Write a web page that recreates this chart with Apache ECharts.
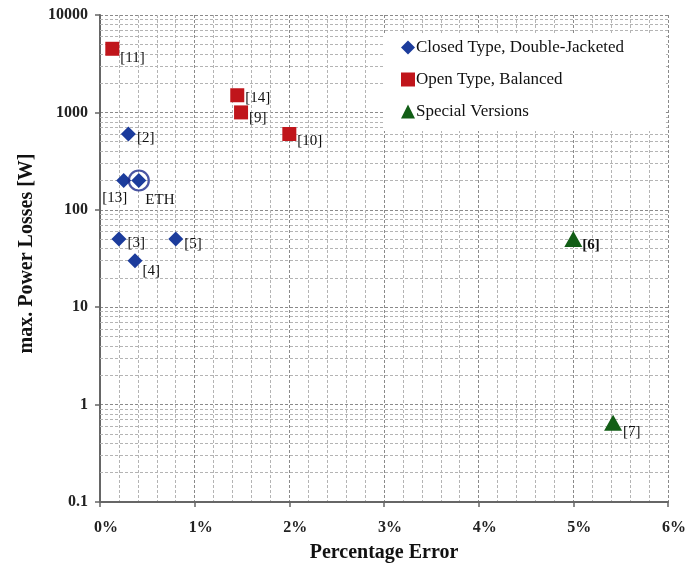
<!DOCTYPE html>
<html>
<head>
<meta charset="utf-8">
<script src="https://cdn.jsdelivr.net/npm/echarts@6/dist/echarts.min.js"></script>
<style>html,body{margin:0;padding:0;background:#fff;}#c{width:689px;height:572px;}</style>
</head>
<body>
<div id="c"></div>
<script>
// ---- data ----
const closedNames = ['[2]', '[13]', 'ETH', '[3]', '[5]', '[4]'];
const closedX = [0.30, 0.25, 0.41, 0.20, 0.80, 0.37];
const closedY = [600, 200, 200, 50, 50, 30];

const openNames = ['[11]', '[14]', '[9]', '[10]'];
const openX = [0.13, 1.45, 1.49, 2.00];
const openY = [4500, 1500, 1000, 600];

const specialNames = ['[6]', '[7]'];
const specialX = [5.00, 5.42];
const specialY = [50, 0.65];

const highlightName = 'ETH';

const seriesNames = ['Closed Type, Double-Jacketed', 'Open Type, Balanced', 'Special Versions'];
const xTicks = [0, 1, 2, 3, 4, 5, 6];
const yDecades = [0.1, 1, 10, 100, 1000, 10000];

// ---- styling / layout ----
const SERIF = '"Liberation Serif", "Times New Roman", serif';
const labelPlace = {
  '[13]': {position: 'bottom', distance: 3, offset: [-9, 0]},
  'ETH': {position: 'right', distance: 0, offset: [-1, 20]},
  '[11]': {position: 'right', distance: 1, offset: [0, 9]},
  '[14]': {position: 'right', distance: 1, offset: [0, 3]},
  '[9]': {position: 'right', distance: 1, offset: [0, 6]},
  '[10]': {position: 'right', distance: 1, offset: [0, 7]},
  '[2]': {position: 'right', distance: 1, offset: [0, 4]},
  '[3]': {position: 'right', distance: 1, offset: [0, 4]},
  '[5]': {position: 'right', distance: 1, offset: [0, 5]},
  '[4]': {position: 'right', distance: 0, offset: [0, 10]},
  '[6]': {position: 'right', distance: 0, offset: [0, 6], fontWeight: 'bold'},
  '[7]': {position: 'right', distance: 1, offset: [0, 9]}
};

function pts(names, xs, ys) {
  return names.map((n, i) => {
    const p = labelPlace[n] || {position: 'right'};
    return {
      name: n,
      value: [xs[i], ys[i]],
      label: Object.assign({show: true, formatter: n}, p)
    };
  });
}

// minor log gridlines (2..9 within each decade), drawn through the y-axis scale
const minorY = [];
yDecades.slice(0, -1).forEach(d => { for (let k = 2; k <= 9; k++) minorY.push(+(d * k).toPrecision(3)); });

const labelStyle = {fontFamily: SERIF, fontSize: 15, color: '#111'};

const chart = echarts.init(document.getElementById('c'));
chart.setOption({
  animation: false,
  backgroundColor: '#fff',
  grid: {left: 100, right: 20, top: 15, bottom: 70},
  legend: {
    orient: 'vertical',
    left: 384, top: 33,
    backgroundColor: '#fff',
    padding: [6, 42, 11, 17],
    itemGap: 15,
    itemWidth: 14, itemHeight: 14,
    textStyle: {fontFamily: SERIF, fontSize: 17, color: '#111', padding: [0, 0, 0, -4]},
    data: [
      {name: seriesNames[0], icon: 'diamond'},
      {name: seriesNames[1], icon: 'rect'},
      {name: seriesNames[2], icon: 'triangle'}
    ],
    z: 10
  },
  xAxis: {
    type: 'value', min: 0, max: 6, interval: 1,
    name: 'Percentage Error', nameLocation: 'middle', nameGap: 41,
    nameTextStyle: {fontFamily: SERIF, fontSize: 20, fontWeight: 'bold', color: '#111'},
    axisLine: {show: true, onZero: false, lineStyle: {color: '#666', width: 2}},
    axisTick: {show: true, inside: false, length: 5, lineStyle: {color: '#666', width: 1.5}},
    axisLabel: {fontFamily: SERIF, fontSize: 16, fontWeight: 'bold', color: '#222', margin: 18,
      padding: [0, 0, 0, 12], formatter: v => xTicks.includes(v) ? v + '%' : ''},
    splitLine: {show: true, lineStyle: {color: '#8a8a8a', width: 1, type: [3, 2]}},
    minorTick: {show: false, splitNumber: 5},
    minorSplitLine: {show: true, lineStyle: {color: '#b4b4b4', width: 1, type: [3, 2]}}
  },
  yAxis: {
    type: 'log', logBase: 10, min: 0.1, max: 10000,
    name: 'max. Power Losses [W]', nameLocation: 'middle', nameGap: 63, nameRotate: 90,
    nameTextStyle: {fontFamily: SERIF, fontSize: 20, fontWeight: 'bold', color: '#111', padding: [0, 0, 0, 10]},
    axisLine: {show: true, lineStyle: {color: '#666', width: 2}},
    axisTick: {show: true, inside: false, length: 5, lineStyle: {color: '#666', width: 1.5}},
    axisLabel: {fontFamily: SERIF, fontSize: 16, fontWeight: 'bold', color: '#222', margin: 12,
      formatter: v => String(+v.toPrecision(3))},
    splitLine: {show: true, lineStyle: {color: '#8a8a8a', width: 1, type: [3, 2]}}
  },
  series: [
    {
      name: '_minor', type: 'scatter', data: [], silent: true, z: 0,
      markLine: {
        silent: true, symbol: ['none', 'none'], label: {show: false},
        lineStyle: {color: '#b4b4b4', width: 1, type: [3, 2]},
        emphasis: {disabled: true},
        data: minorY.map(v => ({yAxis: v}))
      }
    },
    {
      name: seriesNames[0], type: 'scatter', symbol: 'diamond', symbolSize: 15,
      itemStyle: {color: '#1c3c9c', opacity: 1},
      label: labelStyle,
      data: pts(closedNames, closedX, closedY), z: 5
    },
    {
      name: seriesNames[1], type: 'scatter', symbol: 'rect', symbolSize: 14,
      itemStyle: {color: '#c0151b', opacity: 1},
      label: labelStyle,
      data: pts(openNames, openX, openY), z: 5
    },
    {
      name: seriesNames[2], type: 'scatter', symbol: 'triangle', symbolSize: [18, 16],
      itemStyle: {color: '#125e16', opacity: 1},
      label: labelStyle,
      data: pts(specialNames, specialX, specialY), z: 5
    },
    {
      name: '_ring', type: 'scatter', symbol: 'circle', symbolSize: 20, silent: true,
      itemStyle: {color: 'rgba(0,0,0,0)', borderColor: '#1d2a8c', borderWidth: 2.2},
      data: closedNames.map((n, i) => n === highlightName ? [closedX[i], closedY[i]] : null).filter(Boolean),
      z: 6
    }
  ]
});
</script>
</body>
</html>
